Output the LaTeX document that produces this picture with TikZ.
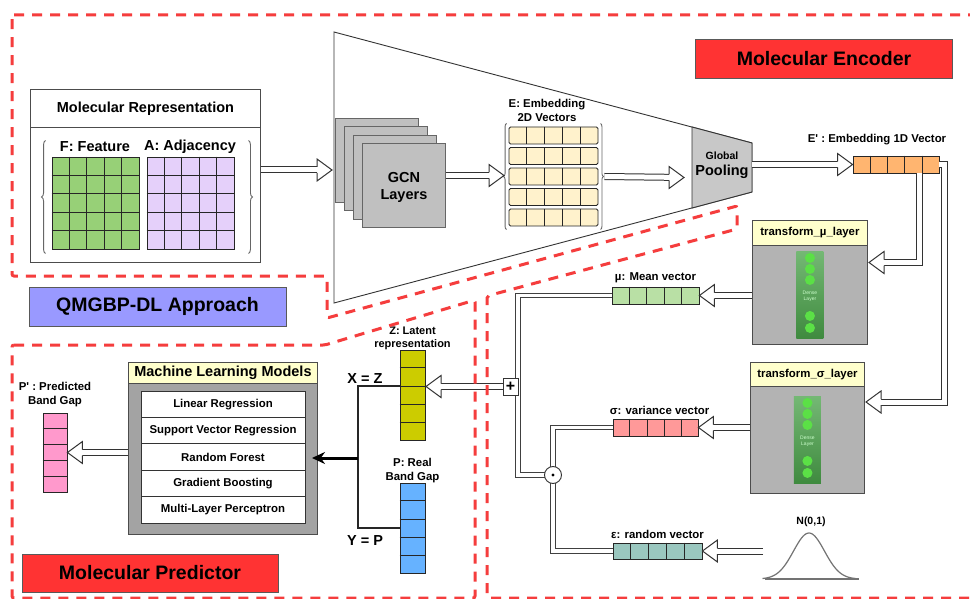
\documentclass[tikz,border=0pt]{standalone}
\usepackage{fontspec}
\setmainfont{Liberation Sans}
\usepackage{xcolor}
\definecolor{dashRed}{HTML}{F53D3D}
\definecolor{lblRed}{HTML}{FF3333}
\definecolor{lblBlue}{HTML}{9999FF}
\definecolor{featG}{HTML}{97D077}
\definecolor{adjP}{HTML}{E5D0FA}
\definecolor{embY}{HTML}{FFF2CC}
\definecolor{hdrY}{HTML}{FFFFCC}
\definecolor{vecO}{HTML}{FFB570}
\definecolor{muG}{HTML}{B9E0A5}
\definecolor{sgR}{HTML}{FF9999}
\definecolor{epsT}{HTML}{9AC7BF}
\definecolor{zY}{HTML}{CCCC00}
\definecolor{pB}{HTML}{66B2FF}
\definecolor{ppP}{HTML}{FF99CC}
\definecolor{gcnG}{HTML}{C0C0C0}
\definecolor{poolG}{HTML}{C8C8C8}
\definecolor{tfG}{HTML}{B3B3B3}
\definecolor{mlG}{HTML}{A3A3A3}
\definecolor{denseTop}{HTML}{74B874}
\definecolor{denseBot}{HTML}{3F8A3F}
\definecolor{denseDot}{HTML}{5BE046}
\usepackage{tikz}
\usetikzlibrary{calc, positioning}
\usetikzlibrary{arrows.meta}
\usetikzlibrary{decorations.pathreplacing}
\tikzset{
    regionline/.style={draw=dashRed, line width=3pt, dash pattern=on 10pt off 8pt, rounded corners=2pt},
    bigfont/.style={font=\fontsize{19.5}{22}\selectfont\bfseries},
    midfont/.style={font=\fontsize{14.5}{17}\selectfont\bfseries},
    smlfont/.style={font=\fontsize{11.4}{14}\selectfont\bfseries},
    titlebox/.style={draw=black!65, line width=0.9pt, minimum width=257, minimum height=39, bigfont},
    vecbox/.style={draw=black!85, line width=0.9pt, inner sep=0pt},
    cellline/.style={draw=black!85, line width=0.8pt},
    gcnbox/.style={draw=black!60, fill=gcnG, line width=0.9pt, minimum width=83, minimum height=84, anchor=north west},
    hdrbox/.style={draw=black!70, fill=hdrY, line width=0.9pt, anchor=north west, inner sep=0pt},
    bodybox/.style={draw=black!70, line width=0.9pt, anchor=north west, inner sep=0pt},
    mlrow/.style={draw=black!80, fill=white, line width=0.9pt, minimum width=164, minimum height=26.4, smlfont},
    brace/.style={draw=black!60, line width=0.9pt, decorate, decoration={brace, amplitude=#1}},
    brk/.style={draw=black!85, line width=1.6pt},
    flex/.style={draw=black!80, line width=1pt, double=white, double distance=5pt, shorten >=15pt},
    link/.style={draw=black!75, line width=1pt, double=white, double distance=3.6pt},
    fhead/.pic={\filldraw[draw=black!80, fill=white, line width=1pt]
        (-15,3) -- (-15,11) -- (0,0) -- (-15,-11) -- (-15,-3);}
}

\begin{document}
\begin{tikzpicture}[x=1pt, y=-1pt]
  \fill[white] (0,0) rectangle (970,599);
  \useasboundingbox (0,0) rectangle (970,599);

  % molecular representation
  \node[hdrbox, fill=white, minimum width=230, minimum height=38, midfont] (mreph) at (30,89) {Molecular Representation};
  \node[bodybox, minimum width=230, minimum height=135] (mrep) at (30,127) {};
  \node[vecbox, fill=featG, minimum width=87, minimum height=92] (feat) at (95.5,203) {};
  \node[vecbox, fill=adjP, minimum width=87, minimum height=92] (adj) at (190.5,203) {};
  \foreach \m in {feat,adj}
    \foreach \i in {1,...,4} {
      \draw[cellline] ($(\m.north west)!\i/5!(\m.north east)$) -- ($(\m.south west)!\i/5!(\m.south east)$);
      \draw[cellline] ($(\m.north west)!\i/5!(\m.south west)$) -- ($(\m.north east)!\i/5!(\m.south east)$);
    }
  \node[midfont] (featl) at (95,147) {F: Feature};
  \node[midfont] (adjl) at (190,147) {A: Adjacency};
  \draw[brace=4pt] ($(feat.south west)+(-6,4)$) -- ($(feat.north west)+(-6,-16)$);
  \draw[brace=4pt] ($(adj.north east)+(14,-16)$) -- ($(adj.south east)+(14,4)$);

  % encoder funnel + pooling
  \draw[draw=black!80, line width=0.9pt] (334,32) -- (752,143) -- (752,192) -- (334,303) -- cycle;
  \filldraw[draw=black!80, fill=poolG, line width=0.9pt] (692,127) -- (752,143) -- (752,192) -- (692,208) -- cycle;
  \node[align=center, inner sep=0pt] (pool) at (722,165)
    {{\fontsize{10.5}{13}\selectfont\bfseries Global}\\[4pt]{\fontsize{14.5}{15}\selectfont\bfseries Pooling}};

  % GCN stack
  \foreach \i in {1,...,4}
    \node[gcnbox] (gcn\i) at ({335+9*(\i-1)},{118+8.4*(\i-1)}) {};
  \node[midfont, align=center] (gcnt) at ($(gcn4.center)+(0,2)$) {GCN\\Layers};

  % embedding 2D vectors
  \foreach \i in {1,...,5} {
    \node[vecbox, fill=embY, rounded corners=1.5pt, minimum width=89, minimum height=17] (emb\i) at (553.5,{135.5+20.5*(\i-1)}) {};
    \foreach \j in {1,...,4}
      \draw[cellline] ($(emb\i.north west)!\j/5!(emb\i.north east)$) -- ($(emb\i.south west)!\j/5!(emb\i.south east)$);
  }
  \draw[brace=3pt] ($(emb5.south west)+(-2,3)$) -- ($(emb1.north west)+(-2,-3)$);
  \draw[brace=3pt] ($(emb1.north east)+(2,-3)$) -- ($(emb5.south east)+(2,3)$);
  \node[smlfont, align=center] (embl) at (547,110) {E: Embedding\\2D Vectors};

  % E' vector
  \node[vecbox, fill=vecO, minimum width=86, minimum height=17] (evec) at (896,164.5) {};
  \node[smlfont] (evecl) at (877,140) {E\textquotesingle{} : Embedding 1D Vector};

  % transform layers
  \node[hdrbox, minimum width=115, minimum height=25, smlfont] (tmuh) at (752,220) {transform\_µ\_layer};
  \node[bodybox, fill=tfG, minimum width=115, minimum height=99] (tmub) at (752,245) {};
  \node[hdrbox, minimum width=114, minimum height=24, smlfont] (tsgh) at (750,362) {transform\_σ\_layer};
  \node[bodybox, fill=tfG, minimum width=114, minimum height=107] (tsgb) at (750,386) {};
  \foreach \b in {tmub,tsgb} {
    \shade[top color=denseTop, bottom color=denseBot] ($(\b.center)+(-13.5,-43.5)$) rectangle ($(\b.center)+(13.5,43.5)$);
    \foreach \dy in {-37,-26,-15,21,33}
      \fill[denseDot] ($(\b.center)+(0,\dy)$) circle (5);
    \node[font=\fontsize{5}{6}\selectfont, text=white!80!green, align=center, inner sep=0pt] (\b-dl) at ($(\b.center)+(0,1)$) {Dense\\Layer};
  }

  % mu, sigma, eps vectors
  \node[vecbox, fill=muG, minimum width=87, minimum height=17] (mu) at (655.5,295.5) {};
  \node[vecbox, fill=sgR, minimum width=85, minimum height=17] (sg) at (655.5,427.5) {};
  \node[vecbox, fill=epsT, minimum width=89, minimum height=16] (eps) at (657.5,551) {};
  \node[smlfont, above=0pt of mu] (mulbl) {µ: Mean vector};
  \node[smlfont, above=0pt of sg, xshift=4] (sglbl) {σ: variance vector};
  \node[smlfont, above=0pt of eps] (epslbl) {ε: random vector};

  % N(0,1)
  \node[font=\fontsize{10.5}{12}\selectfont\bfseries] (bell) at (811,522) {N(0,1)};
  \draw[draw=black!55, line width=1.2pt] (765,579) -- (859,579);
  \draw[draw=black!55, line width=1.2pt, smooth] plot[domain=-3:3, samples=61] ({809+15.5*\x},{579-46*exp(-0.5*\x*\x)});
  \coordinate (bellin) at (763,551);

  % latent / real band gap
  \node[vecbox, fill=zY, minimum width=25, minimum height=90] (zvec) at (412.5,395) {};
  \node[vecbox, fill=pB, minimum width=25, minimum height=90] (pvec) at (412.5,528) {};
  \node[vecbox, fill=ppP, minimum width=24, minimum height=79] (ppvec) at (55,452.5) {};
  \foreach \v in {evec,mu,sg,eps}
    \foreach \i in {1,...,4}
      \draw[cellline] ($(\v.north west)!\i/5!(\v.north east)$) -- ($(\v.south west)!\i/5!(\v.south east)$);
  \foreach \v in {zvec,pvec,ppvec}
    \foreach \i in {1,...,4}
      \draw[cellline] ($(\v.north west)!\i/5!(\v.south west)$) -- ($(\v.north east)!\i/5!(\v.south east)$);
  \node[smlfont, align=center, above=-4pt of zvec, font=\fontsize{11}{13.5}\selectfont\bfseries] (zlbl) {Z: Latent\\representation};
  \node[smlfont, align=center, above=-4pt of pvec] (plbl) {P: Real\\Band Gap};
  \node[smlfont, align=center, above=2pt of ppvec] (pplbl) {P\textquotesingle{} : Predicted\\Band Gap};
  \node[midfont] (xz) at (365,379) {X = Z};
  \node[midfont] (yp) at (365,541) {Y = P};

  % machine learning models
  \node[hdrbox, minimum width=189, minimum height=21, midfont] (mlh) at (128,362) {Machine Learning Models};
  \node[bodybox, fill=mlG, minimum width=189, minimum height=151] (mlb) at (128,383) {};
  \foreach \i/\t in {1/Linear Regression, 2/Support Vector Regression, 3/Random Forest, 4/Gradient Boosting, 5/Multi-Layer Perceptron}
    \node[mlrow] (ml\i) at (223,{404.2+26.4*(\i-1)}) {\t};

  % reparameterisation: mu + sigma * eps
  \coordinate (mul) at (553,475);
  \coordinate (add) at (510.5,386.5);
  \draw[link] (mu.west) -| ($(add)+(7.5,0)$) |- ($(mul)+(-8.5,0)$);
  \draw[link] (sg.west) -| (mul |- eps.west) -- (eps.west);
  \node[circle, draw=black!80, fill=white, minimum size=17, inner sep=0pt, line width=0.9pt] (mulop) at (mul) {};
  \fill (mulop.center) circle (1.6);
  \node[draw=black!80, fill=white, minimum width=15, minimum height=17, inner sep=0pt, line width=0.9pt,
        font=\fontsize{16}{16}\selectfont\bfseries] (addop) at (add) {+};

  % hollow arrows
  \coordinate (fin) at (332,170);
  \draw[flex] (fin -| mrep.east) -- (fin);
  \pic at (fin) {fhead};
  \coordinate (ein) at (504,175.5);
  \draw[flex] (ein -| gcn4.east) -- (ein);
  \pic at (ein) {fhead};
  \coordinate (pin) at (684,177.5);
  \draw[flex] ([xshift=6]emb3.east) -- (pin);
  \pic at (pin) {fhead};
  \coordinate (pout) at (752,164.5);
  \draw[flex] (pout) -- (evec.west);
  \pic at (evec.west) {fhead};
  \coordinate (muin) at (869,262.5);
  \draw[flex] ([xshift=23]evec.south) |- (muin);
  \pic[rotate=180] at (muin) {fhead};
  \coordinate (sgin) at (866,402);
  \draw[flex] (evec.east) -- ++(5,0) |- (sgin);
  \pic[rotate=180] at (sgin) {fhead};
  \draw[flex] (tmub.west |- mu.east) -- (mu.east);
  \pic[rotate=180] at (mu.east) {fhead};
  \draw[flex] (tsgb.west |- sg.east) -- (sg.east);
  \pic[rotate=180] at (sg.east) {fhead};
  \draw[flex] (bellin) -- (eps.east);
  \pic[rotate=180] at (eps.east) {fhead};
  \coordinate (zin) at (426,386.5);
  \draw[flex] (addop.west) -- (zin);
  \pic[rotate=180] at (zin) {fhead};
  \draw[flex] (ppvec.east -| mlb.west) -- (ppvec.east);
  \pic[rotate=180] at (ppvec.east) {fhead};

  % X/Y split into the models
  \coordinate (join) at (358,458);
  \coordinate (mlin) at (312,458);
  \draw[brk] ([yshift=9]zvec.west) -| (join) |- (pvec.west);
  \draw[line width=3pt, -{Stealth[length=13pt, width=12pt]}] (join) -- (mlin);

  % title boxes
  \node[titlebox, fill=lblRed] (enclbl) at (824,58.5) {Molecular Encoder};
  \node[titlebox, fill=lblBlue] (qlbl) at (157.5,306.5) {QMGBP-DL Approach};
  \node[titlebox, fill=lblRed, minimum width=256, minimum height=38] (predlbl) at (150,573) {Molecular Predictor};

  % dashed regions
  \draw[regionline] (12,15) -- (975,15) -- (975,598) -- (487,598) -- (487,296) -- (737,229)
     -- (737,206) -- (327,318) -- (327,276) -- (12,276) -- cycle;
  \draw[regionline] (12,345) -- (325,345) -- (475,300) -- (475,598) -- (12,598) -- cycle;
\end{tikzpicture}
\end{document}
